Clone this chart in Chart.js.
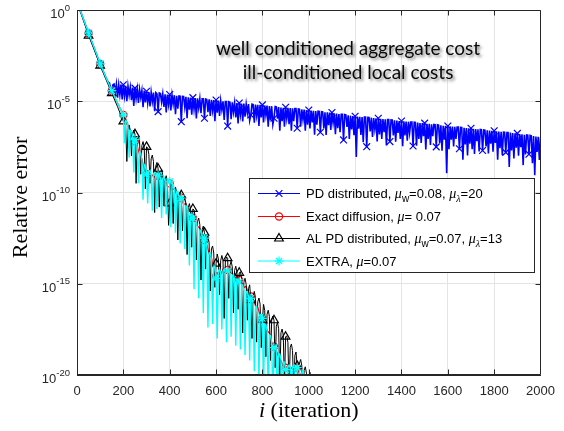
<!DOCTYPE html>
<html>
<head>
<meta charset="utf-8">
<script src="https://cdn.jsdelivr.net/npm/chart.js@4.4.1/dist/chart.umd.min.js"></script>
<style>
  html, body { margin: 0; padding: 0; background: #fff; }
  #wrap { width: 564px; height: 431px; }
</style>
</head>
<body>
<div id="wrap"><canvas id="c" width="564" height="431"></canvas></div>
<script>
// ---- data: log10 of the relative error ----

// PD distributed, sampled every PD_STEP iterations from 0 to 2000 (one row = 100 iterations)
const PD_STEP = 5;
const pdLog = [
  0.45, 0.27, 0.10, -0.08, -0.25, -0.42, -0.60, -0.77, -0.95, -1.12, -1.28, -1.45, -1.62, -1.79, -1.96, -2.13, -2.30, -2.46, -2.63, -2.80,
  -2.97, -3.12, -3.27, -3.42, -3.57, -3.71, -3.85, -3.95, -4.00, -4.30, -4.45, -4.10, -4.06, -4.55, -4.06, -4.80, -4.10, -4.65, -4.08, -4.90,
  -4.10, -4.72, -4.15, -4.99, -4.17, -4.67, -4.23, -4.94, -4.25, -5.26, -4.28, -4.85, -4.33, -5.09, -4.35, -4.80, -4.40, -5.32, -4.42, -5.07,
  -4.45, -5.10, -4.49, -5.28, -4.50, -5.02, -4.53, -5.55, -4.53, -4.60, -5.57, -4.55, -4.58, -5.05, -4.59, -5.31, -4.62, -5.61, -4.63, -5.18,
  -4.63, -5.50, -4.66, -5.15, -4.67, -5.71, -4.70, -5.41, -4.71, -4.72, -6.12, -4.73, -4.74, -5.33, -4.76, -5.93, -4.78, -5.46, -4.80, -5.74,
  -4.80, -5.44, -4.83, -5.94, -4.84, -5.37, -4.86, -5.66, -4.86, -4.86, -5.93, -4.87, -4.90, -5.60, -4.90, -5.80, -4.92, -5.50, -4.93, -6.09,
  -4.93, -5.62, -4.96, -5.81, -4.97, -5.47, -5.00, -6.03, -5.01, -5.01, -6.36, -5.02, -5.05, -5.98, -5.06, -5.60, -5.09, -5.89, -5.10, -6.22,
  -5.10, -5.73, -5.13, -6.11, -5.13, -5.85, -5.15, -5.64, -5.15, -6.05, -5.75, -5.16, -5.18, -6.17, -5.18, -5.77, -5.20, -6.36, -5.20, -5.88,
  -5.20, -6.16, -5.23, -5.77, -5.24, -6.39, -5.26, -6.05, -5.27, -6.27, -5.93, -5.29, -5.31, -5.95, -5.32, -6.62, -5.34, -6.09, -5.36, -6.40,
  -5.33, -5.94, -5.36, -6.26, -5.37, -6.62, -5.39, -6.09, -5.40, -5.40, -6.48, -5.42, -5.43, -6.39, -5.45, -6.00, -5.46, -6.62, -5.48, -6.28,
  -5.48, -6.49, -5.51, -6.16, -5.52, -6.83, -5.54, -6.29, -5.55, -5.56, -6.70, -5.57, -5.58, -6.49, -5.60, -6.85, -5.61, -6.31, -5.62, -6.57,
  -5.62, -6.18, -5.66, -6.80, -5.67, -6.47, -5.70, -6.69, -5.71, -5.71, -7.12, -5.73, -5.75, -6.40, -5.77, -7.07, -5.79, -6.54, -5.81, -6.86,
  -5.82, -8.05, -5.84, -6.50, -5.85, -6.84, -5.86, -7.24, -5.87, -5.87, -7.49, -5.88, -5.89, -6.66, -5.90, -6.96, -5.92, -6.52, -5.93, -7.20,
  -5.93, -6.82, -5.96, -7.06, -5.97, -6.69, -5.99, -7.42, -6.00, -6.00, -7.21, -6.02, -6.03, -6.87, -6.05, -7.21, -6.06, -6.73, -6.08, -7.07,
  -6.08, -7.47, -6.10, -6.87, -6.11, -7.16, -6.12, -6.73, -6.14, -6.14, -7.45, -6.15, -6.16, -7.43, -6.17, -7.06, -6.19, -7.29, -6.20, -6.92,
  -6.20, -7.64, -6.23, -7.06, -6.24, -7.40, -6.26, -6.92, -6.27, -6.28, -7.50, -6.29, -6.31, -7.30, -6.32, -7.71, -6.34, -7.11, -6.35, -8.95,
  -6.36, -7.63, -6.38, -7.10, -6.39, -7.48, -6.40, -7.07, -6.42, -6.42, -7.60, -6.43, -6.44, -8.20, -6.45, -7.36, -6.47, -7.97, -6.48, -7.32,
  -6.48, -7.63, -6.51, -7.89, -6.52, -7.19, -6.54, -7.75, -6.55, -6.56, -7.70, -6.57, -6.58, -7.48, -6.59, -7.86, -6.60, -7.33, -6.62, -7.76,
  -6.62, -7.29, -6.65, -8.21, -6.66, -7.57, -6.68, -7.95, -6.69, -6.70, -7.80, -6.71, -6.71, -8.60, -6.72, -7.69, -6.74, -8.13, -6.75, -7.54,
  -6.76, -7.98, -6.80, -7.52, -6.81, -8.50, -6.84, -7.92, -6.85, -6.86, -7.90, -6.87, -6.89, -8.40, -6.91, -9.05, -6.93, -7.78, -6.95, -8.22,
  -6.97
];

// the three fast methods share a coarse head (0..175), then a finer tail from TAIL_START
const headIter = [0, 25, 50, 75, 100, 125, 150, 175];
const TAIL_START = 200;

// Exact diffusion
const edHeadLog = [0.45, -0.42, -1.28, -2.12, -2.97, -3.72, -4.44, -5.10];
const ED_STEP = 10;
const edTailLog = [
  -5.75, -5.95, -6.40, -6.55, -7.00, -7.20, -7.45, -7.95, -8.15, -8.75,
  -9.00, -8.90, -9.15, -9.00, -9.25, -9.10, -9.30, -9.20, -9.45, -9.35,
  -9.50, -9.85, -9.80, -10.15, -10.10, -10.30, -10.65, -10.60, -11.00, -11.05,
  -11.40, -11.50, -11.85, -11.95, -12.40, -12.60, -12.85, -13.35, -13.55, -14.20,
  -14.60, -14.35, -14.50, -14.20, -14.40, -14.25, -14.45, -14.40, -14.70, -14.55,
  -14.80, -14.90, -15.20, -15.15, -15.55, -15.70, -15.80, -16.20, -16.30, -16.75,
  -16.90, -17.10, -17.55, -17.70, -18.20, -18.45, -18.65, -19.05, -19.20, -19.55,
  -19.60, -19.50, -19.70, -19.55, -19.75, -19.60, -19.90, -20.10, -20.50, -20.70,
  -21.00
];

// AL PD distributed
const alHeadLog = [0.45, -0.45, -1.40, -2.20, -3.05, -3.80, -4.56, -5.30];
const AL_STEP = 5;
const alTailLog = [
  -6.10, -6.02, -6.34, -8.30, -6.53, -6.30, -6.62, -8.00, -6.81, -6.58,
  -6.80, -9.50, -7.11, -6.89, -7.22, -9.00, -7.43, -7.21, -7.54, -9.80,
  -7.50, -7.55, -7.90, -9.50, -8.15, -7.95, -8.30, -11.10, -8.55, -8.35,
  -8.70, -10.80, -8.93, -8.72, -9.06, -10.75, -9.29, -9.08, -9.42, -11.80,
  -10.60, -9.42, -9.74, -11.70, -9.93, -9.70, -10.02, -12.60, -10.21, -9.98,
  -10.15, -12.10, -10.51, -10.29, -10.62, -13.40, -10.83, -10.61, -10.94, -13.00,
  -10.90, -10.96, -11.32, -13.70, -11.59, -11.40, -11.76, -14.80, -12.03, -11.84,
  -12.20, -14.20, -12.53, -12.37, -12.76, -15.40, -13.09, -12.93, -13.32, -15.20,
  -13.90, -13.37, -13.64, -15.60, -13.73, -13.45, -13.72, -16.90, -13.81, -13.53,
  -13.60, -15.80, -13.99, -13.76, -14.08, -16.60, -14.27, -14.04, -14.36, -16.40,
  -14.40, -14.34, -14.68, -17.70, -14.91, -14.70, -15.04, -17.00, -15.27, -15.06,
  -15.90, -18.00, -15.63, -15.42, -15.76, -18.20, -15.99, -15.78, -16.12, -18.50,
  -17.00, -16.13, -16.46, -19.00, -16.67, -16.45, -16.78, -19.20, -16.99, -16.77,
  -17.00, -19.60, -17.33, -17.12, -17.46, -20.30, -17.69, -17.48, -17.82, -20.50,
  -17.90, -17.86, -18.22, -20.80, -18.49, -18.30, -18.66, -21.00, -18.93, -18.74,
  -19.50, -21.50, -19.35, -19.15, -19.50, -21.80, -19.75, -19.55, -19.90, -22.00,
  -20.15, -19.85, -20.20, -22.50, -20.40, -20.30, -20.60, -23.00, -20.80, -20.60,
  -21.00
];

// EXTRA
const exHeadLog = [0.45, -0.40, -1.26, -2.10, -2.95, -3.70, -4.42, -5.08];
const EX_STEP = 5;
const exTailLog = [
  -5.75, -7.30, -6.06, -6.09, -6.42, -8.10, -6.58, -6.61, -6.94, -8.90,
  -7.10, -7.17, -7.54, -9.50, -7.78, -7.85, -8.22, -10.40, -8.46, -8.53,
  -9.00, -10.60, -8.86, -8.79, -9.02, -11.00, -8.98, -8.91, -9.14, -10.90,
  -9.05, -9.03, -9.26, -11.40, -9.22, -9.15, -9.38, -11.20, -9.34, -9.27,
  -9.40, -11.90, -9.58, -9.57, -9.86, -12.20, -9.94, -9.93, -10.22, -12.80,
  -10.30, -10.31, -10.62, -13.10, -10.74, -10.75, -11.06, -14.00, -11.18, -11.19,
  -11.40, -15.30, -11.62, -11.63, -11.94, -15.80, -12.06, -12.07, -12.38, -16.60,
  -12.50, -12.58, -12.96, -17.40, -13.32, -13.30, -13.68, -17.20, -14.04, -14.02,
  -14.70, -18.00, -14.30, -14.20, -14.40, -17.50, -14.30, -14.20, -14.40, -18.20,
  -14.30, -14.26, -14.52, -17.90, -14.54, -14.50, -14.76, -18.40, -14.78, -14.74,
  -14.90, -18.60, -15.08, -15.07, -15.36, -18.90, -15.44, -15.43, -15.72, -19.20,
  -15.80, -15.81, -16.12, -19.80, -16.24, -16.25, -16.56, -20.30, -16.68, -16.69,
  -16.90, -20.60, -17.20, -17.25, -17.60, -21.00, -17.80, -17.85, -18.20, -21.50,
  -18.50, -18.41, -18.72, -22.00, -18.84, -18.85, -19.16, -22.50, -19.28, -19.29,
  -19.70, -22.80, -19.52, -19.45, -19.62, -22.80, -19.55, -19.47, -19.66, -23.00,
  -19.60, -19.55, -19.80, -23.00, -19.90, -19.75, -20.10, -23.50, -20.20, -20.20,
  -20.60, -24.00, -20.70
];

// axes
const X_MIN = 0, X_MAX = 2000, X_STEP = 200;
const yTickExp = [0, -5, -10, -15, -20];
const MARKER_EVERY = 50;

// ---- build point lists ----
function tailSeries(headLog, step, tailLog) {
  const pts = headIter.map((it, k) => ({ x: it, y: Math.pow(10, headLog[k]) }));
  tailLog.forEach((v, k) => pts.push({ x: TAIL_START + k * step, y: Math.pow(10, v) }));
  return pts;
}
const pdPts = pdLog.map((v, k) => ({ x: k * PD_STEP, y: Math.pow(10, v) }));
const edPts = tailSeries(edHeadLog, ED_STEP, edTailLog);
const alPts = tailSeries(alHeadLog, AL_STEP, alTailLog);
const exPts = tailSeries(exHeadLog, EX_STEP, exTailLog);

function markerAt(r, last) {
  return ctx => {
    const it = ctx.raw ? ctx.raw.x : -1;
    return (it > 0 && it <= last && it % MARKER_EVERY === 0) ? r : 0;
  };
}

const BLUE = 'rgb(0,0,255)', RED = 'rgb(255,0,0)', BLACK = 'rgb(0,0,0)', CYAN = 'rgb(0,255,255)';
const AXIS = '#262626', GRID = '#e4e4e4';

function lineSet(label, data, color, style, r, last, width) {
  return {
    label, data,
    borderColor: color, borderWidth: width,
    pointStyle: style, pointRadius: markerAt(r, last), pointHoverRadius: 0,
    pointBorderColor: color, pointBackgroundColor: 'rgba(0,0,0,0)', pointBorderWidth: 1.2,
    tension: 0, clip: 0, fill: false
  };
}

// index 0 is painted last (on top)
const datasets = [
  lineSet('EXTRA', exPts, CYAN, 'star', 4.5, 950, 1.4),
  lineSet('AL PD distributed', alPts, BLACK, 'triangle', 5, 950, 1),
  lineSet('Exact diffusion', edPts, RED, 'circle', 3.6, 950, 1.2),
  lineSet('PD distributed', pdPts, BLUE, 'crossRot', 4.8, 1950, 1.6)
];

// ---- text pieces ----
const SANS = '"Liberation Sans", Arial, Helvetica, sans-serif';
const SERIF = '"Liberation Serif", "Times New Roman", serif';
const F = {
  t: '13px ' + SANS,
  s: '10px ' + SANS,
  m: 'italic 14px ' + SERIF,
  g: 'italic 10px ' + SERIF
};
const legendRows = [
  { color: BLUE, style: 'crossRot', r: 4.8, runs: [['PD distributed, ', 't'], ['μ', 'm'], ['w', 's'], ['=0.08, ', 't'], ['μ', 'm'], ['λ', 'g'], ['=20', 't']] },
  { color: RED, style: 'circle', r: 3.6, runs: [['Exact diffusion, ', 't'], ['μ', 'm'], ['= 0.07', 't']] },
  { color: BLACK, style: 'triangle', r: 5, runs: [['AL PD distributed, ', 't'], ['μ', 'm'], ['w', 's'], ['=0.07, ', 't'], ['μ', 'm'], ['λ', 'g'], ['=13', 't']] },
  { color: CYAN, style: 'star', r: 4.5, runs: [['EXTRA, ', 't'], ['μ', 'm'], ['=0.07', 't']] }
];
const noteLines = ['well conditioned aggregate cost', 'ill-conditioned local costs'];

const decor = {
  id: 'decor',
  beforeDraw(chart) {
    const c = chart.ctx;
    c.save();
    c.fillStyle = '#fff';
    c.fillRect(0, 0, chart.width, chart.height);
    c.restore();
  },
  afterDatasetsDraw(chart) {
    const c = chart.ctx;
    const a = chart.chartArea;
    const xs = chart.scales.x, ys = chart.scales.y;
    const L = Math.round(a.left) + 0.5, R = Math.round(a.right) - 0.5;
    const T = Math.round(a.top) + 0.5, B = Math.round(a.bottom) - 0.5;
    c.save();

    // box
    c.strokeStyle = AXIS; c.lineWidth = 1;
    c.beginPath();
    c.moveTo(L, T); c.lineTo(R, T); c.lineTo(R, B); c.lineTo(L, B); c.closePath();
    c.stroke();

    // inward ticks
    const TL = 5;
    c.beginPath();
    for (let v = X_MIN + X_STEP; v < X_MAX; v += X_STEP) {
      const px = Math.round(xs.getPixelForValue(v)) + 0.5;
      c.moveTo(px, B); c.lineTo(px, B - TL);
      c.moveTo(px, T); c.lineTo(px, T + TL);
    }
    yTickExp.forEach(e => {
      const py = Math.round(ys.getPixelForValue(Math.pow(10, e))) + 0.5;
      c.moveTo(L, py); c.lineTo(L + TL, py);
      c.moveTo(R, py); c.lineTo(R - TL, py);
    });
    c.stroke();

    // y tick labels 10^e
    c.fillStyle = AXIS;
    c.textBaseline = 'alphabetic';
    c.textAlign = 'left';
    yTickExp.forEach(e => {
      const py = ys.getPixelForValue(Math.pow(10, e));
      const sup = String(e);
      c.font = '13px ' + SANS; const wb = c.measureText('10').width;
      c.font = '9.5px ' + SANS; const ws = c.measureText(sup).width;
      const right = a.left - 7;
      c.font = '13px ' + SANS; c.fillText('10', right - ws - wb, py + 8);
      c.font = '9.5px ' + SANS; c.fillText(sup, right - ws, py + 0.5);
    });

    // axis titles
    c.fillStyle = '#000';
    c.font = 'italic 22px ' + SERIF;
    const wi = c.measureText('i').width;
    c.font = '22px ' + SERIF;
    const wr = c.measureText(' (iteration)').width;
    const x0 = (a.left + a.right) / 2 - (wi + wr) / 2;
    c.font = 'italic 22px ' + SERIF; c.fillText('i', x0, 417);
    c.font = '22px ' + SERIF; c.fillText(' (iteration)', x0 + wi, 417);

    c.save();
    c.translate(27, (a.top + a.bottom) / 2 + 5);
    c.rotate(-Math.PI / 2);
    c.textAlign = 'center';
    c.font = '22px ' + SERIF;
    c.fillText('Relative error', 0, 0);
    c.restore();

    // annotation with soft shadow
    c.save();
    c.font = '19px Lato, "Open Sans", sans-serif';
    c.textAlign = 'center';
    c.fillStyle = '#0a0a0a';
    c.shadowColor = 'rgba(0,0,0,0.5)';
    c.shadowBlur = 3; c.shadowOffsetX = 2; c.shadowOffsetY = 2;
    c.fillText(noteLines[0], 348, 55);
    c.fillText(noteLines[1], 348, 79);
    c.restore();

    // legend
    const bx = 249.5, by = 178.5, bw = 285, bh = 94;
    c.fillStyle = '#fff';
    c.fillRect(bx, by, bw, bh);
    c.strokeStyle = AXIS; c.lineWidth = 1;
    c.strokeRect(bx, by, bw, bh);
    const lineY = [193.5, 216.5, 238.5, 261];
    const baseY = [198, 221, 243, 265.5];
    legendRows.forEach((row, k) => {
      const y = lineY[k];
      c.strokeStyle = row.color; c.lineWidth = 1.2;
      c.beginPath(); c.moveTo(258, y); c.lineTo(300, y); c.stroke();
      c.fillStyle = 'rgba(0,0,0,0)';
      Chart.helpers.drawPoint(c, { pointStyle: row.style, radius: row.r, borderWidth: 1.2, rotation: 0 }, 279, y);
      let x = 306;
      c.fillStyle = '#000';
      row.runs.forEach(([txt, f]) => {
        c.font = F[f];
        const dy = (f === 's' || f === 'g') ? 4 : 0;
        c.fillText(txt, x, baseY[k] + dy);
        x += c.measureText(txt).width;
      });
    });
    c.restore();
  }
};

new Chart(document.getElementById('c'), {
  type: 'line',
  data: { datasets },
  options: {
    responsive: false,
    animation: false,
    events: [],
    layout: { padding: { top: 10, right: 23, left: 0, bottom: 0 } },
    plugins: { legend: { display: false }, tooltip: { enabled: false } },
    scales: {
      x: {
        type: 'linear', min: X_MIN, max: X_MAX,
        ticks: {
          stepSize: X_STEP, color: AXIS, padding: 9, maxRotation: 0, autoSkip: false,
          font: { family: SANS, size: 13 },
          callback: v => String(v)
        },
        grid: { color: GRID, drawTicks: false },
        border: { color: AXIS },
        afterFit: s => { s.height = 56; }
      },
      y: {
        type: 'logarithmic', min: 1e-20, max: 1,
        afterBuildTicks: s => { s.ticks = yTickExp.map(e => ({ value: Math.pow(10, e) })); },
        ticks: { display: false },
        grid: { color: GRID, drawTicks: false },
        border: { color: AXIS },
        afterFit: s => { s.width = 77; }
      }
    }
  },
  plugins: [decor]
});
</script>
</body>
</html>
